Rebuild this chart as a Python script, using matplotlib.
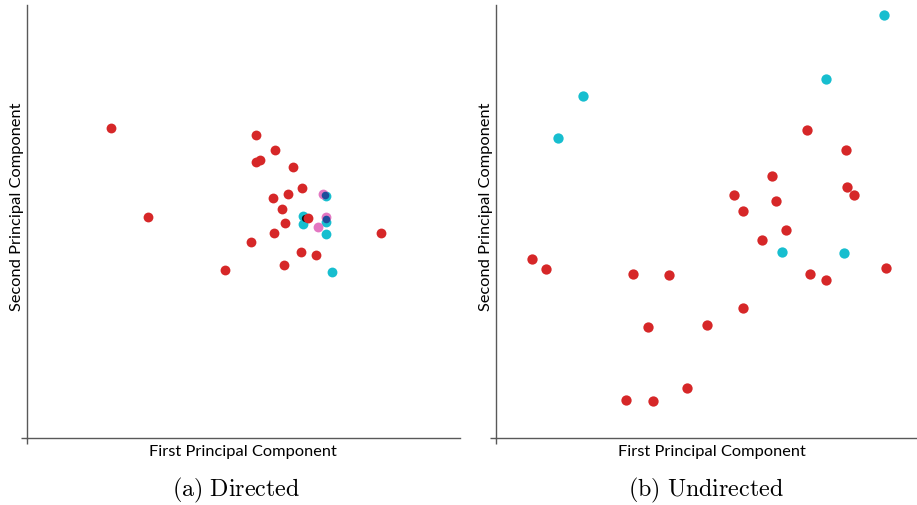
import matplotlib
matplotlib.use("Agg")
import matplotlib.pyplot as plt

# ---- Panel (a): Directed ----
a_red_x = [1.94, 2.79, 4.57, 5.30, 5.72, 5.38, 5.29, 6.14, 6.35, 6.02, 5.67, 5.88, 5.96, 6.48, 5.70, 8.17, 5.18, 6.33, 6.67, 5.94]
a_red_y = [7.16, 5.10, 3.88, 7.00, 6.66, 6.43, 6.37, 6.27, 5.78, 5.64, 5.54, 5.29, 4.96, 5.07, 4.73, 4.73, 4.53, 4.30, 4.23, 4.00]
a_cyan_x = [6.90, 6.38, 6.37, 6.91, 6.91, 7.04]
a_cyan_y = [5.60, 5.13, 4.94, 4.98, 4.70, 3.84]
a_pink_x = [6.84, 6.91, 6.71]
a_pink_y = [5.64, 5.10, 4.88]
a_navy_x = [6.88, 6.91]
a_navy_y = [5.61, 5.05]
a_black_x = [6.42]
a_black_y = [5.09]

# ---- Panel (b): Undirected ----
b_cyan_x = [8.95, 7.62, 2.00, 1.42, 6.60, 8.04]
b_cyan_y = [9.76, 8.29, 7.90, 6.92, 4.29, 4.28]
b_red_x = [7.18, 8.09, 6.37, 5.50, 8.10, 8.27, 6.46, 5.70, 6.70, 6.14, 0.84, 1.15, 9.01, 3.17, 4.00, 7.24, 7.63, 5.71, 3.50, 4.87, 4.40, 2.99, 3.62]
b_red_y = [7.11, 6.65, 6.06, 5.61, 5.80, 5.62, 5.47, 5.25, 4.80, 4.58, 4.13, 3.91, 3.93, 3.79, 3.77, 3.79, 3.64, 3.00, 2.57, 2.60, 1.15, 0.88, 0.85]

a_xlim = (0, 10.0)
b_xlim = (0, 9.72)
ylim = (0, 10.0)

RED = "#d62728"
CYAN = "#17becf"
PINK = "#e377c2"
NAVY = "#1f4e9c"
BLACK = "#111111"
SPINE = "#595959"

label_font = "Lato"
plt.rcParams['mathtext.fontset'] = 'cm'

W, H = 917, 506
fig = plt.figure(figsize=(W / 100, H / 100), dpi=100)


def make_ax(left_px, right_px, top_px, bottom_px, xlim):
    ax = fig.add_axes([left_px / W, 1 - bottom_px / H, (right_px - left_px) / W, (bottom_px - top_px) / H])
    ax.set_xlim(*xlim)
    ax.set_ylim(*ylim)
    for s in ("top", "right"):
        ax.spines[s].set_visible(False)
    for s in ("left", "bottom"):
        ax.spines[s].set_color(SPINE)
        ax.spines[s].set_linewidth(1.0)
    ax.set_xticks([xlim[0]])
    ax.set_yticks([ylim[0]])
    ax.set_xticklabels([])
    ax.set_yticklabels([])
    ax.tick_params(direction="out", length=4.5, width=1.0, color=SPINE)
    return ax


S = 50
ax1 = make_ax(27, 460, 6, 439, a_xlim)
ax1.scatter(a_cyan_x, a_cyan_y, s=S, c=CYAN, linewidths=0, zorder=3)
ax1.scatter(a_pink_x, a_pink_y, s=S, c=PINK, linewidths=0, zorder=3)
ax1.scatter(a_navy_x, a_navy_y, s=S * 0.6, c=NAVY, linewidths=0, zorder=4)
ax1.scatter(a_black_x, a_black_y, s=S * 0.55, c=BLACK, linewidths=0, zorder=4)
ax1.scatter(a_red_x, a_red_y, s=S, c=RED, linewidths=0, zorder=5)

ax2 = make_ax(496, 917, 6, 439, b_xlim)
ax2.scatter(b_red_x, b_red_y, s=S * 1.1, c=RED, linewidths=0, zorder=3)
ax2.scatter(b_cyan_x, b_cyan_y, s=S * 1.1, c=CYAN, linewidths=0, zorder=3)

for ax in (ax1, ax2):
    for coll in ax.collections:
        coll.set_clip_on(False)

# axis labels
LFS = 11.8
fig.text(243 / W, 1 - 452 / H, "First Principal Component", ha="center", va="center",
         fontsize=LFS, family=label_font)
fig.text(712 / W, 1 - 452 / H, "First Principal Component", ha="center", va="center",
         fontsize=LFS, family=label_font)
fig.text(17 / W, 1 - 207 / H, "Second Principal Component", ha="center", va="center",
         rotation=90, fontsize=LFS, family=label_font)
fig.text(486 / W, 1 - 207 / H, "Second Principal Component", ha="center", va="center",
         rotation=90, fontsize=LFS, family=label_font)

# captions
fig.text(236 / W, 1 - 490 / H, r"$\mathrm{(a)\ Directed}$", ha="center", va="center", fontsize=17.3)
fig.text(706 / W, 1 - 490 / H, r"$\mathrm{(b)\ Undirected}$", ha="center", va="center", fontsize=17.3)

fig.savefig("out.png", dpi=100)
